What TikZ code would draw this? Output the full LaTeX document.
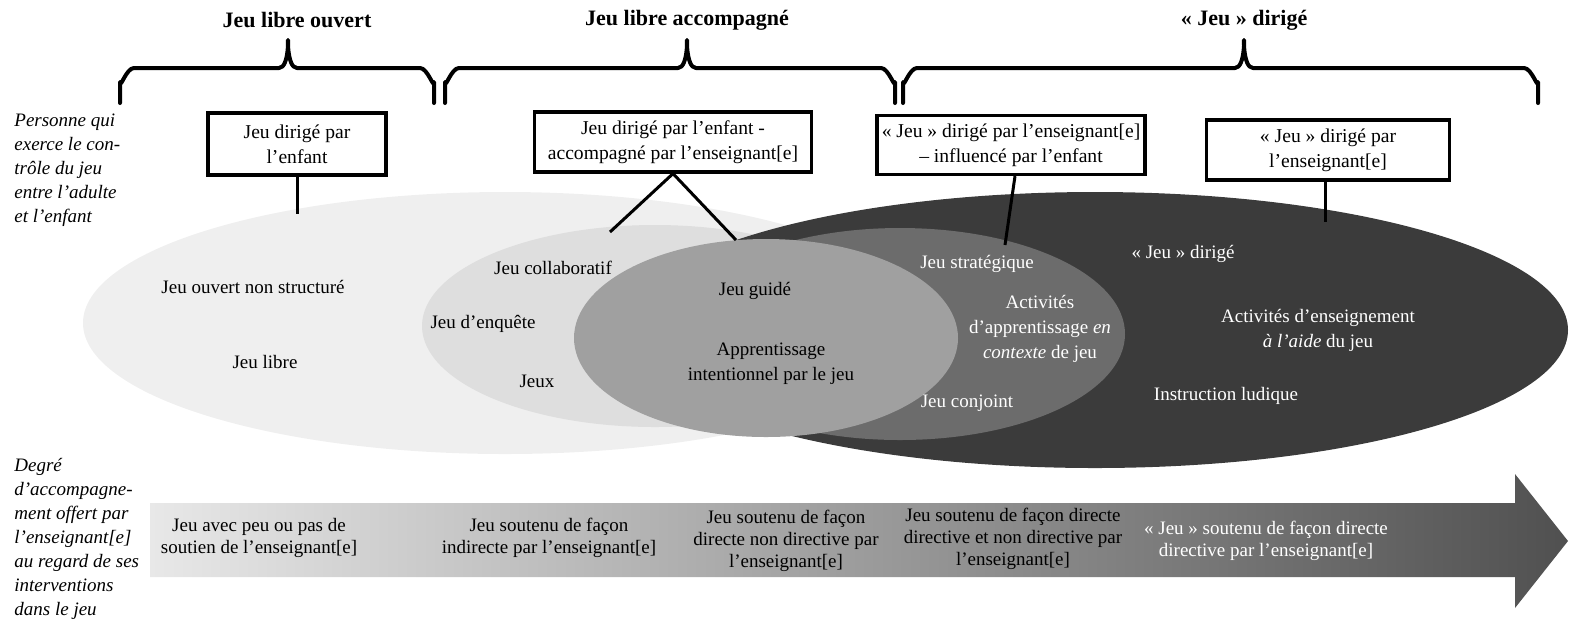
\documentclass[tikz,border=0pt]{standalone}
\usepackage{fontspec}
\setmainfont{Liberation Serif}
\usetikzlibrary{calc}
\definecolor{colorefefef}{HTML}{EFEFEF}
\definecolor{colordedede}{HTML}{DEDEDE}
\definecolor{colora0a0a0}{HTML}{A0A0A0}
\definecolor{color6c6c6c}{HTML}{6C6C6C}
\definecolor{color3b3b3b}{HTML}{3B3B3B}
\definecolor{colore8e8e8}{HTML}{E8E8E8}
\definecolor{color505050}{HTML}{505050}

\begin{document}
\begin{tikzpicture}
    [x=0.5pt, y=-0.5pt,
     ctrlbox/.style={shape=rectangle, draw=black, fill=white, line width=1.6pt, align=center, inner sep=0pt, font=\fontsize{9.8}{12.5}\selectfont},
     zonetext/.style={align=center, inner sep=0pt, font=\fontsize{9.5}{12.5}\selectfont},
     whitetext/.style={zonetext, text=white},
     steptext/.style={align=center, inner sep=0pt, font=\fontsize{9.5}{11}\selectfont},
     sidetext/.style={anchor=north west, align=left, inner sep=0pt, font=\fontsize{9.5}{12}\selectfont\itshape},
     grouptitle/.style={inner sep=0pt, font=\fontsize{11}{13}\selectfont\bfseries},
     groupbrace/.style={line width=2pt, line cap=round, line join=round},
     link/.style={line width=1.5pt},
    ]

\useasboundingbox (0,0) rectangle (1574,629);

% group titles and braces
\node[grouptitle] (title_open) at (297,20) {Jeu libre ouvert};
\node[grouptitle] (title_guided) at (687,20) {Jeu libre accompagné};
\node[grouptitle] (title_directed) at (1244,20) {« Jeu » dirigé};
\foreach \xa/\xm/\xb in {120/288/434, 445/687/895, 903/1244/1538}
    \draw[groupbrace] (\xa,103) -- (\xa,82) to[out=-90,in=180] (\xa+14,68) -- (\xm-9,68) to[out=0,in=90] (\xm,42) to[out=90,in=180] (\xm+9,68) -- (\xb-14,68) to[out=0,in=-90] (\xb,82) -- (\xb,103);

% side labels
\node[sidetext] (side_control) at (14,114) {Personne qui\\exerce le con-\\trôle du jeu\\entre l’adulte\\et l’enfant};
\node[sidetext] (side_support) at (14,458) {Degré\\d’accompagne-\\ment offert par\\l’enseignant[e]\\au regard de ses\\interventions\\dans le jeu};

% play zones
\fill[colorefefef] (505,323) ellipse [x radius=422, y radius=131];
\fill[colordedede] (655,326) ellipse [x radius=233, y radius=101];
\fill[color3b3b3b] (1095,330) ellipse [x radius=473, y radius=138];
\fill[color6c6c6c] (900,334) ellipse [x radius=225, y radius=106];
\fill[colora0a0a0] (766,338) ellipse [x radius=192, y radius=99];

\node[zonetext] (zone_unstructured) at (253,287) {Jeu ouvert non structuré};
\node[zonetext] (zone_free) at (265,362) {Jeu libre};
\node[zonetext] (zone_collab) at (553,268) {Jeu collaboratif};
\node[zonetext] (zone_inquiry) at (483,324) {Jeu d’enquête};
\node[zonetext] (zone_games) at (537,381) {Jeux};
\node[zonetext] (zone_guided) at (755,291) {Jeu guidé};
\node[zonetext] (zone_intent) at (771,364) {Apprentissage\\intentionnel par le jeu};
\node[whitetext] (zone_strategic) at (977,264) {Jeu stratégique};
\node[whitetext] (zone_context) at (1040,329) {Activités\\d’apprentissage \textit{en}\\\textit{contexte} de jeu};
\node[whitetext] (zone_joint) at (967,403) {Jeu conjoint};
\node[whitetext] (zone_directed) at (1183,254) {« Jeu » dirigé};
\node[whitetext] (zone_teaching) at (1318,330) {Activités d’enseignement\\\textit{à l’aide} du jeu};
\node[whitetext] (zone_ludic) at (1226,396) {Instruction ludique};

% who controls the play
\node[ctrlbox, minimum width=89pt, minimum height=31pt] (box_child) at (297,144) {Jeu dirigé par\\l’enfant};
\node[ctrlbox, minimum width=138.5pt, minimum height=30pt] (box_shared) at (673,142) {Jeu dirigé par l’enfant -\\accompagné par l’enseignant[e]};
\node[ctrlbox, minimum width=134pt, minimum height=29.5pt] (box_influenced) at (1011,145) {« Jeu » dirigé par l’enseignant[e]\\– influencé par l’enfant};
\node[ctrlbox, minimum width=121.5pt, minimum height=30pt] (box_teacher) at (1328,150) {« Jeu » dirigé par\\l’enseignant[e]};

\coordinate (end_child) at (297,214);
\coordinate (end_shared_a) at (610,232);
\coordinate (end_shared_b) at (736,240);
\coordinate (end_influenced) at (1005,245);
\coordinate (end_teacher) at (1325,222);
\draw[link] (box_child.south) -- (end_child);
\draw[link] (box_shared.south) -- (end_shared_a);
\draw[link] (box_shared.south) -- (end_shared_b);
\draw[link] (box_influenced.south) ++(4,0) -- (end_influenced);
\draw[link] (box_teacher.south) ++(-3,0) -- (end_teacher);

% support arrow
\shade[left color=colore8e8e8, right color=color505050] (150,503) -- (1515,503) -- (1515,474) -- (1568,541) -- (1515,608) -- (1515,577) -- (150,577) -- cycle;

\node[steptext] (step_none) at (259,538) {Jeu avec peu ou pas de\\soutien de l’enseignant[e]};
\node[steptext] (step_indirect) at (549,538) {Jeu soutenu de façon\\indirecte par l’enseignant[e]};
\node[steptext] (step_direct) at (786,541) {Jeu soutenu de façon\\directe non directive par\\l’enseignant[e]};
\node[steptext] (step_mixed) at (1013,539) {Jeu soutenu de façon directe\\directive et non directive par\\l’enseignant[e]};
\node[steptext, text=white] (step_directive) at (1266,541) {« Jeu » soutenu de façon directe\\directive par l’enseignant[e]};

\end{tikzpicture}
\end{document}
